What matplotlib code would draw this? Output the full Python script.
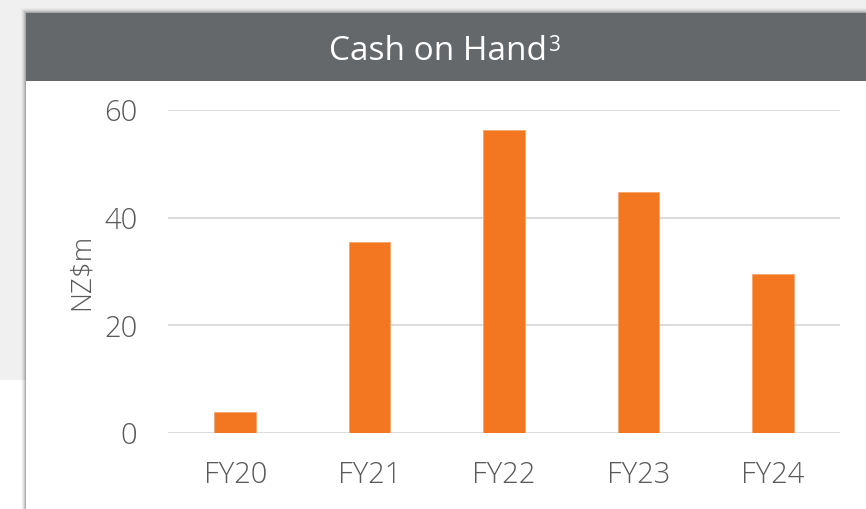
import matplotlib.pyplot as plt
from matplotlib.patches import Rectangle

categories = ["FY20", "FY21", "FY22", "FY23", "FY24"]
values = [3.9, 35.5, 56.3, 44.8, 29.5]
yticks = [0, 20, 40, 60]
title = "Cash on Hand"
title_sup = "3"
ylabel = "NZ$m"

W, H = 866, 509
fig = plt.figure(figsize=(W / 100, H / 100), dpi=100)
fig.patch.set_facecolor("white")
plt.rcParams['font.family'] = ['Open Sans', 'DejaVu Sans']

def px(x0, y0, w, h, **kw):
    return Rectangle((x0 / W, 1 - (y0 + h) / H), w / W, h / H,
                     transform=fig.transFigure, **kw)

# background
fig.patches.append(px(0, 0, W, 380, color="#f0f0f0", zorder=0))
fig.patches.append(px(0, 380, 26, 129, color="#ffffff", zorder=0))
# shadow of card
for i, a in enumerate([0.05, 0.08, 0.12, 0.18, 0.25]):
    fig.patches.append(px(26 - 5 + i, 13 - 5 + i, W, H, color="black", alpha=a * 0.5, zorder=1, lw=0))
# card
fig.patches.append(px(26, 13, W, H, color="white", zorder=2, lw=0))
fig.patches.append(px(26, 13, W, 68, color="#65686b", zorder=3, lw=0))
fig.text(329 / W, 1 - 60 / H, title, color="white", fontsize=24,
         ha="left", va="baseline", zorder=4)
fig.text(548 / W, 1 - 51 / H, title_sup, color="white", fontsize=15,
         ha="left", va="baseline", zorder=4)

ax = fig.add_axes([168 / W, 1 - 433 / H, (840 - 168) / W, (433 - 110) / H])
ax.set_zorder(5)
ax.patch.set_alpha(0)
x = range(len(categories))
ax.bar(x, values, width=0.31, color="#f37721", edgecolor="#f7a56a", linewidth=0.6, zorder=3)
ax.set_xlim(-0.5, len(categories) - 0.5)
ax.set_ylim(0, 60)
ax.set_yticks(yticks)
ax.set_xticks(list(x))
ax.set_xticklabels(categories)
ax.grid(axis="y", color="#d9d9d9", linewidth=1.3, zorder=0)
ax.set_axisbelow(True)
for s in ax.spines.values():
    s.set_visible(False)
ax.tick_params(length=0, labelsize=21, colors="#595959")
ax.tick_params(axis="y", pad=22)
ax.tick_params(axis="x", pad=20)
for lab in ax.get_xticklabels() + ax.get_yticklabels():
    lab.set_fontweight("light")
ax.set_ylabel(ylabel, fontsize=20, color="#595959", labelpad=6, fontweight="light")

fig.savefig("out.png", dpi=100)
